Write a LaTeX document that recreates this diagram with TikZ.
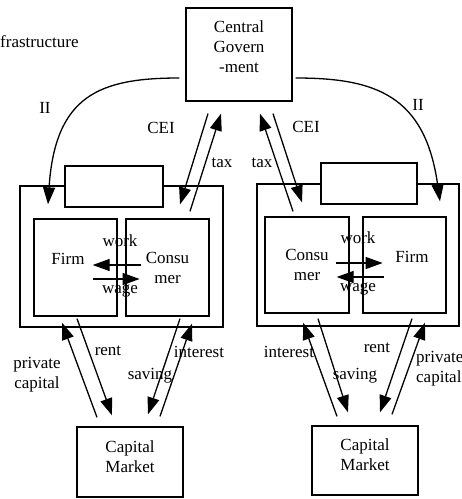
\documentclass[tikz,border=0pt]{standalone}
\usepackage{fontspec}
\setmainfont{Liberation Serif}
\usetikzlibrary{arrows.meta,calc}

\begin{document}
\begin{tikzpicture}[x=1pt,y=-1pt,
  box/.style={draw, line width=1.3pt, fill=white, inner sep=0pt},
  lbl/.style={font=\fontsize{17}{20}\selectfont, inner sep=0pt, align=center},
  flow/.style={line width=1.3pt, -{Triangle[length=17pt,width=12pt]}}]
  \useasboundingbox (0,0) rectangle (462,499);

  % government and capital markets
  \node[box, minimum width=106pt, minimum height=93pt] (gov) at (239,54.5) {};
  \node[lbl] (govtxt) at (239,47) {Central\\Govern\\-ment};
  \node[lbl, anchor=west] (infra) at (0,42) {frastructure};
  \node[box, minimum width=106pt, minimum height=70pt] (lmkt) at (130,462) {};
  \node[lbl] (lmkttxt) at (130,457) {Capital\\Market};
  \node[box, minimum width=106pt, minimum height=69pt] (rmkt) at (365,460.5) {};
  \node[lbl] (rmkttxt) at (365,455) {Capital\\Market};

  % left region
  \node[box, minimum width=203pt, minimum height=141pt] (lframe) at (121.5,256.5) {};
  \node[box, minimum width=98pt, minimum height=41pt] (lbox) at (114,186.5) {};
  \node[box, minimum width=83pt, minimum height=97pt] (lfirm) at (75.5,267.5) {};
  \node[box, lbl, minimum width=83pt, minimum height=97pt] (lcons) at (167.5,267.5) {Consu\\mer};
  \node[lbl] (lfirmtxt) at (68,259) {Firm};

  % right region
  \node[box, minimum width=202pt, minimum height=142pt] (rframe) at (358,255) {};
  \node[box, minimum width=96pt, minimum height=41pt] (rbox) at (369,183.5) {};
  \node[box, lbl, minimum width=84pt, minimum height=96pt] (rcons) at (307,265) {Consu\\mer};
  \node[box, minimum width=83pt, minimum height=96pt] (rfirm) at (404.5,265) {};
  \node[lbl] (rfirmtxt) at (412,257) {Firm};

  % work and wage
  \draw[flow] ($(lfirm.east)+(23,-2.5)$) -- ($(lfirm.east)+(-25,-2.5)$);
  \draw[flow] ($(lfirm.east)+(-25,11.5)$) -- ($(lfirm.east)+(22,11.5)$);
  \node[lbl] (lwork) at (120,241) {work};
  \node[lbl] (lwage) at (120,291) {wage};
  \draw[flow] ($(rcons.east)+(-14,-2)$) -- ($(rcons.east)+(33,-2)$);
  \draw[flow] ($(rcons.east)+(34,12)$) -- ($(rcons.east)+(-13,12)$);
  \node[lbl] (rwork) at (358,238) {work};
  \node[lbl] (rwage) at (358,289) {wage};

  % government flows
  \draw[flow] ($(gov.south)+(-31,12)$) -- ($(lcons.north)+(12.5,-14)$);
  \draw[flow] ($(lcons.north)+(22.5,-7)$) -- ($(gov.south)+(-18,12)$);
  \draw[flow] ($(rcons.north)+(-14,-5)$) -- ($(gov.south)+(21,12)$);
  \draw[flow] ($(gov.south)+(34,12)$) -- ($(rcons.north)+(-5,-14)$);
  \draw[flow] ($(gov.west)+(-6,23.5)$) .. controls (100,78) and (55,95) .. ($(lfirm.north)+(-27.5,-14)$);
  \draw[flow] ($(gov.east)+(3,23.5)$) .. controls (375,78) and (425,95) .. ($(rfirm.north)+(35.5,-15)$);
  \node[lbl] (lcei) at (161,128) {CEI};
  \node[lbl] (rcei) at (306,127) {CEI};
  \node[lbl] (ltax) at (222,163) {tax};
  \node[lbl] (rtax) at (262,163) {tax};
  \node[lbl] (lii) at (45,108) {II};
  \node[lbl] (rii) at (418,105) {II};

  % capital market flows
  \draw[flow] ($(lmkt.north)+(-33,-9)$) -- ($(lframe.south)+(-59.5,-5)$);
  \draw[flow] ($(lframe.south)+(-44.5,-9)$) -- ($(lmkt.north)+(-18,-11)$);
  \draw[flow] ($(lframe.south)+(58.5,-9)$) -- ($(lmkt.north)+(18,-12)$);
  \draw[flow] ($(lmkt.north)+(30,-10)$) -- ($(lframe.south)+(70.5,-4)$);
  \draw[flow] ($(rmkt.north)+(-28,-9)$) -- ($(rframe.south)+(-55,-4)$);
  \draw[flow] ($(rframe.south)+(-40,-8)$) -- ($(rmkt.north)+(-17,-13)$);
  \draw[flow] ($(rframe.south)+(54,-8)$) -- ($(rmkt.north)+(15,-13)$);
  \draw[flow] ($(rmkt.north)+(27,-11)$) -- ($(rframe.south)+(67,-4)$);
  \node[lbl] (lpriv) at (37,375) {private\\capital};
  \node[lbl] (lrent) at (108,351) {rent};
  \node[lbl] (lsav) at (150,376) {saving};
  \node[lbl] (lint) at (199,352) {interest};
  \node[lbl] (rint) at (289,352) {interest};
  \node[lbl] (rrent) at (377,348) {rent};
  \node[lbl] (rsav) at (355,376) {saving};
  \node[lbl, anchor=west, align=left] (rpriv) at (416,369) {private\\capital};
\end{tikzpicture}
\end{document}
